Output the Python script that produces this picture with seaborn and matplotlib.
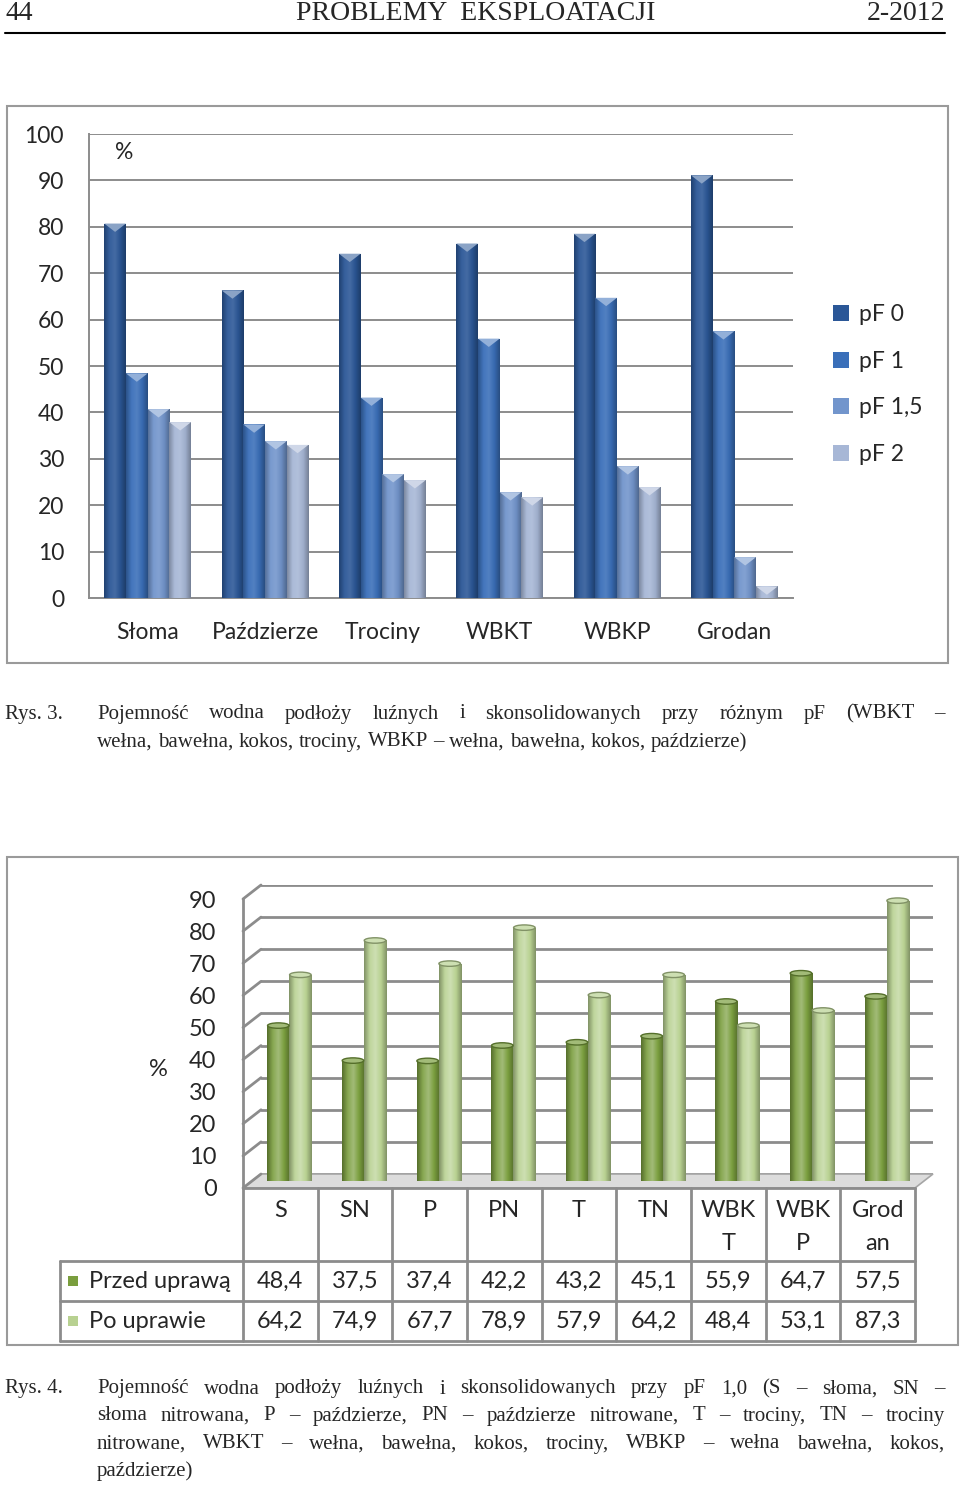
import numpy as np
import pandas as pd
import seaborn as sns
import matplotlib
matplotlib.use("Agg")
import matplotlib.pyplot as plt
from matplotlib.patches import Rectangle, Polygon, Ellipse, Patch
from matplotlib.colors import LinearSegmentedColormap, to_rgb
from matplotlib.lines import Line2D

# ---- data: Rys. 3 ----
materials = ["Słoma", "Paździerze", "Trociny", "WBKT", "WBKP", "Grodan"]
pf_levels = ["pF 0", "pF 1", "pF 1,5", "pF 2"]
pf0 = [80.7, 66.3, 74.2, 76.4, 78.5, 91.1]
pf1 = [48.4, 37.4, 43.2, 55.9, 64.7, 57.5]
pf15 = [40.7, 33.8, 26.7, 22.8, 28.4, 8.8]
pf2 = [37.9, 33.0, 25.4, 21.7, 23.9, 2.5]

# ---- data: Rys. 4 ----
substrates = ["S", "SN", "P", "PN", "T", "TN", "WBKT", "WBKP", "Grodan"]
substrate_labels = ["S", "SN", "P", "PN", "T", "TN", "WBK\nT", "WBK\nP", "Grod\nan"]
series2 = ["Przed uprawą", "Po uprawie"]
przed = [48.4, 37.5, 37.4, 42.2, 43.2, 45.1, 55.9, 64.7, 57.5]
po = [64.2, 74.9, 67.7, 78.9, 57.9, 64.2, 48.4, 53.1, 87.3]

blues = ["#2b5797", "#3a6fb9", "#7295cc", "#a7b7d6"]
greens = ["#7a9e3e", "#b8d191"]

W, H = 960, 1485
SANS = ["Lato", "DejaVu Sans"]
SERIF = ["Liberation Serif", "DejaVu Serif"]
FS1 = 16.5
FS2 = 17
CAP = 15

sns.set_theme(style="white")
plt.rcParams["font.family"] = SANS

fig = plt.figure(figsize=(W / 100, H / 100), dpi=100)


def rect(x0, y0, x1, y1):
    return [x0 / W, 1 - y1 / H, (x1 - x0) / W, (y1 - y0) / H]


def fpt(x, y):
    return (x / W, 1 - y / H)


def mix(c, other, t):
    c, o = np.array(to_rgb(c)), np.array(to_rgb(other))
    return tuple(c * (1 - t) + o * t)


def shade(ax, patch, color, stops):
    x, y = patch.get_x(), patch.get_y()
    w, h = patch.get_width(), patch.get_height()
    cols = [mix(color, "black", -t) if t < 0 else mix(color, "white", t) for t in stops]
    cmap = LinearSegmentedColormap.from_list("g", cols)
    im = ax.imshow(np.linspace(0, 1, 64).reshape(1, -1), extent=[x, x + w, y, y + h],
                   aspect="auto", cmap=cmap, zorder=patch.get_zorder() + 0.1,
                   interpolation="bilinear")
    im.set_clip_path(patch)


# ================= header =================
fig.text(*fpt(5, 13), "44", family=SERIF, fontsize=20, va="center", ha="left")
fig.text(*fpt(476, 13), "PROBLEMY  EKSPLOATACJI", family=SERIF, fontsize=20, va="center", ha="center")
fig.text(*fpt(945, 13), "2-2012", family=SERIF, fontsize=20, va="center", ha="right")
fig.add_artist(Line2D([5 / W, 945 / W], [1 - 33 / H] * 2, color="black", lw=1.5))

# ================= chart 1 =================
fig.add_artist(Rectangle(fpt(7, 663), 941 / W, 557 / H, transform=fig.transFigure,
                         fill=False, edgecolor="#9a9a9a", lw=1.5))
ax1 = fig.add_axes(rect(89, 134, 793, 598))
df1 = pd.DataFrame({"material": materials * 4,
                    "pF": sum([[p] * len(materials) for p in pf_levels], []),
                    "value": pf0 + pf1 + pf15 + pf2})
sns.barplot(data=df1, x="material", y="value", hue="pF", palette=blues, saturation=1,
            width=0.74, ax=ax1, legend=False, linewidth=0, zorder=3)
for i, patch in enumerate(ax1.patches[:len(df1)]):
    c = blues[i // len(materials)]
    shade(ax1, patch, c, [-0.25, 0.05, 0.12, -0.05, -0.3])
    x, w, h = patch.get_x(), patch.get_width(), patch.get_height()
    ax1.add_patch(Polygon([(x, h), (x + w, h), (x + w / 2, h - 1.8)], closed=True,
                          facecolor=mix(c, "white", 0.45), edgecolor="none", zorder=5))
ax1.set_ylim(0, 100)
ax1.set_xlim(-0.5, len(materials) - 0.5)
ax1.set_yticks(range(0, 101, 10))
ax1.yaxis.grid(True, color="#8c8c8c", lw=1.4)
ax1.set_axisbelow(True)
for s in ["top", "right"]:
    ax1.spines[s].set_visible(False)
for s in ["left", "bottom"]:
    ax1.spines[s].set_color("#8c8c8c")
    ax1.spines[s].set_linewidth(1.4)
ax1.tick_params(axis="y", length=0, pad=18, labelsize=FS1)
ax1.tick_params(axis="x", length=0, pad=17, labelsize=FS1)
ax1.set_xlabel("")
ax1.set_ylabel("")
ax1.text(0.05, 0.96, "%", transform=ax1.transAxes, fontsize=FS1, va="center", ha="center")
handles = [Patch(facecolor=c, edgecolor="none") for c in blues]
fig.legend(handles, pf_levels, loc="upper left", bbox_to_anchor=fpt(833, 304),
           frameon=False, fontsize=FS1, handlelength=0.7, handleheight=0.7,
           handletextpad=0.45, labelspacing=1.12, borderaxespad=0, borderpad=0)

# caption helper
def put_line(text, x0, x1, y, size=CAP, justify=True):
    words = text.split()
    arts = [fig.text(0, 0, w, family=SERIF, fontsize=size, va="center", ha="left") for w in words]
    r = fig.canvas.get_renderer()
    widths = [a.get_window_extent(r).width for a in arts]
    if justify and len(words) > 1:
        gap = (x1 - x0 - sum(widths)) / (len(words) - 1)
    else:
        sp = fig.text(0, 0, "a a", family=SERIF, fontsize=size)
        sp2 = fig.text(0, 0, "aa", family=SERIF, fontsize=size)
        gap = sp.get_window_extent(r).width - sp2.get_window_extent(r).width
        sp.remove()
        sp2.remove()
    x = x0
    for a, w in zip(arts, widths):
        a.set_position(fpt(x, y))
        x += w + gap


fig.text(*fpt(5, 714), "Rys. 3.", family=SERIF, fontsize=CAP, va="center")
put_line("Pojemność wodna podłoży luźnych i skonsolidowanych przy różnym pF (WBKT –", 97, 945, 714)
put_line("wełna, bawełna, kokos, trociny, WBKP – wełna, bawełna, kokos, paździerze)", 97, 945, 742, justify=False)

# ================= chart 2 =================
fig.add_artist(Rectangle(fpt(7, 1345), 951 / W, 488 / H, transform=fig.transFigure,
                         fill=False, edgecolor="#9a9a9a", lw=1.5))
n = len(substrates)
x0f, x1f, y0f, y90f = 243, 915, 1188, 899
dx, dy = 18, 14
ax_back = fig.add_axes(rect(x0f + dx, y90f - dy, x1f + dx, y0f - dy), zorder=0)
ax_mid = fig.add_axes(rect(x0f + dx / 2, y90f - dy / 2, x1f + dx / 2, y0f - dy / 2), zorder=1)
ax2 = fig.add_axes(rect(x0f, y90f, x1f, y0f), zorder=2)
for a in (ax_back, ax_mid, ax2):
    a.set_xlim(-0.5, n - 0.5)
    a.set_ylim(0, 90)
    a.patch.set_visible(False)
    for s in a.spines.values():
        s.set_visible(False)
    a.set_xticks([])
    a.set_yticks(range(0, 91, 10))
    a.tick_params(length=0)

ax_back.yaxis.grid(True, color="#8c8c8c", lw=2)
ax_back.set_yticklabels([])

# floor and left diagonals
to_fig = fig.transFigure.inverted()
def fig_xy(ax, x, y):
    return to_fig.transform(ax.transData.transform((x, y)))

floor = [fig_xy(ax2, -0.5, 0), fig_xy(ax2, n - 0.5, 0),
         fig_xy(ax_back, n - 0.5, 0), fig_xy(ax_back, -0.5, 0)]
ax_back.add_patch(Polygon(floor, closed=True, transform=fig.transFigure, clip_on=False,
                          facecolor="#dcdcdc", edgecolor="#a6a6a6", lw=1.2, zorder=5))
for v in range(0, 91, 10):
    p0, p1 = fig_xy(ax2, -0.5, v), fig_xy(ax_back, -0.5, v)
    fig.add_artist(Line2D([p0[0], p1[0]], [p0[1], p1[1]], color="#8c8c8c", lw=2))
ax2.spines["left"].set_visible(True)
ax2.spines["left"].set_color("#8c8c8c")
ax2.spines["left"].set_linewidth(2)
ax2.tick_params(axis="y", pad=19, labelsize=FS2)
ax2.set_ylabel("")

df2 = pd.DataFrame({"substrate": substrates * 2,
                    "seria": [series2[0]] * n + [series2[1]] * n,
                    "value": przed + po})
sns.barplot(data=df2, x="substrate", y="value", hue="seria", palette=greens, saturation=1,
            width=0.59, ax=ax_mid, legend=False, linewidth=0, zorder=3)
ax_mid.set_xlim(-0.5, n - 0.5)
ax_mid.set_ylim(0, 90)
ax_mid.set_xticks([])
ax_mid.set_xlabel("")
ax_mid.set_ylabel("")
ax_mid.set_yticklabels([])
for i, patch in enumerate(ax_mid.patches[:len(df2)]):
    c = greens[i // n]
    shade(ax_mid, patch, c, [-0.3, 0.1, 0.3, 0.0, -0.3])
    x, w, h = patch.get_x(), patch.get_width(), patch.get_height()
    ax_mid.add_patch(Ellipse((x + w / 2, h), w * 0.98, 1.7, facecolor=mix(c, "white", 0.3),
                             edgecolor=mix(c, "black", 0.3), lw=1, zorder=6))
fig.text(*fpt(158, 1070), "%", fontsize=FS2, va="center", ha="center")

# data table under the plot
tab = fig.add_axes(rect(0, 0, W, H), zorder=3)
tab.set_xlim(0, W)
tab.set_ylim(H, 0)
tab.axis("off")
colw = (x1f - x0f) / n
gc = "#8c8c8c"
r1, r2, r3 = 1261, 1301, 1341
tab.plot([x0f, x1f], [y0f, y0f], color=gc, lw=2)
for yy in (r1, r2, r3):
    tab.plot([60, x1f], [yy, yy], color=gc, lw=2)
tab.plot([60, 60], [r1, r3], color=gc, lw=2)
for i in range(n + 1):
    xx = x0f + i * colw
    tab.plot([xx, xx], [y0f, r3], color=gc, lw=2)
for i, lab in enumerate(substrate_labels):
    tab.text(x0f + (i + 0.5) * colw, 1200, lab, fontsize=FS2, ha="center", va="top",
             linespacing=1.7)
for row, (vals, yy) in enumerate([(przed, 1281), (po, 1321)]):
    for i, v in enumerate(vals):
        tab.text(x0f + (i + 0.5) * colw, yy, f"{v:.1f}".replace(".", ","), fontsize=FS2,
                 ha="center", va="center")
    tab.add_patch(Rectangle((68, yy - 5), 10, 10, facecolor=greens[row], edgecolor="none"))
    tab.text(89, yy, series2[row], fontsize=FS2, ha="left", va="center")

fig.text(*fpt(5, 1389), "Rys. 4.", family=SERIF, fontsize=CAP, va="center")
put_line("Pojemność wodna podłoży luźnych i skonsolidowanych przy pF 1,0 (S –  słoma, SN –", 97, 945, 1389)
put_line("słoma nitrowana, P – paździerze, PN – paździerze nitrowane, T – trociny, TN – trociny", 97, 945, 1416)
put_line("nitrowane, WBKT – wełna, bawełna, kokos, trociny, WBKP – wełna bawełna, kokos,", 97, 945, 1444)
put_line("paździerze)", 97, 945, 1471, justify=False)

fig.savefig("out.png", dpi=100)
